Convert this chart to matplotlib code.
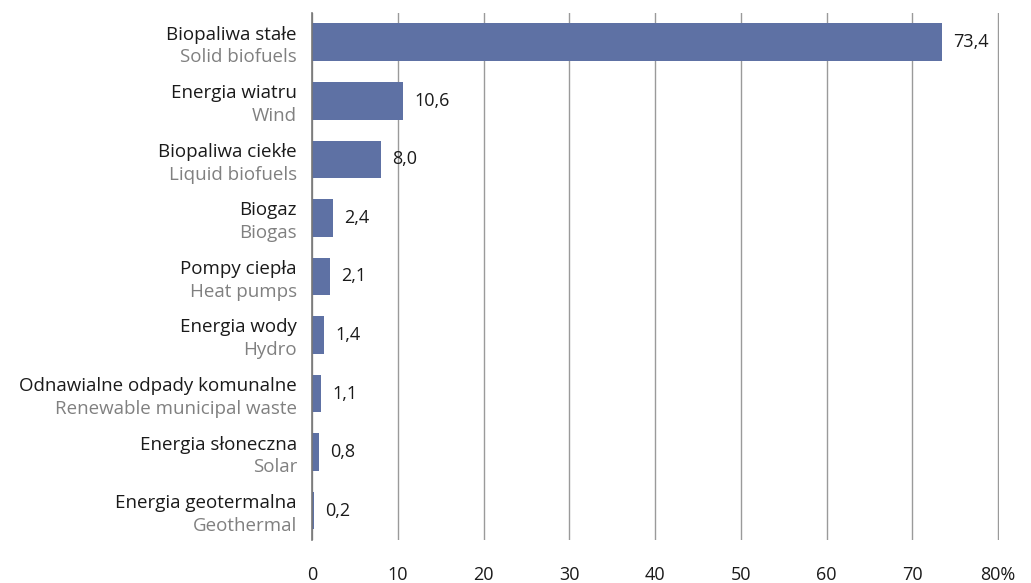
import matplotlib
matplotlib.use("Agg")
import matplotlib.pyplot as plt
import matplotlib.transforms as mtransforms

plt.rcParams["font.family"] = ["Open Sans", "DejaVu Sans"]

labels_pl = ["Biopaliwa stałe", "Energia wiatru", "Biopaliwa ciekłe", "Biogaz", "Pompy ciepła",
             "Energia wody", "Odnawialne odpady komunalne", "Energia słoneczna", "Energia geotermalna"]
labels_en = ["Solid biofuels", "Wind", "Liquid biofuels", "Biogas", "Heat pumps",
             "Hydro", "Renewable municipal waste", "Solar", "Geothermal"]
values = [73.4, 10.6, 8.0, 2.4, 2.1, 1.4, 1.1, 0.8, 0.2]
xticks = [0, 10, 20, 30, 40, 50, 60, 70, 80]
xtick_labels = ["0", "10", "20", "30", "40", "50", "60", "70", "80%"]

bar_color = "#5e71a4"
grid_color = "#9a9a9a"

fig = plt.figure(figsize=(10.31, 5.83), dpi=100)
ax = fig.add_axes([0.3026, 0.0738, 0.6664, 0.904])

ypos = list(range(len(values)))
ax.barh(ypos, values, height=0.64, color=bar_color, zorder=3)
ax.set_ylim(len(values) - 0.5, -0.5)
ax.set_xlim(0, 80.1)

for y, v in zip(ypos, values):
    ax.annotate(f"{v:.1f}".replace(".", ","), xy=(v, y), xytext=(8, 0),
                textcoords="offset points", va="center", ha="left",
                fontsize=13, color="#1a1a1a")

trans = mtransforms.blended_transform_factory(ax.transAxes, ax.transData)
off = mtransforms.ScaledTranslation(-15 / 100, 0, fig.dpi_scale_trans)
for y, pl, en in zip(ypos, labels_pl, labels_en):
    ax.text(0, y - 0.13, pl, transform=trans + off, ha="right", va="center",
            fontsize=13.5, color="#1a1a1a")
    ax.text(0, y + 0.26, en, transform=trans + off, ha="right", va="center",
            fontsize=13.5, color="#808080")

ax.set_xticks(xticks)
ax.set_xticklabels(xtick_labels, fontsize=13, color="#1a1a1a")
ax.set_yticks([])
ax.tick_params(axis="x", length=0, pad=19)
ax.grid(axis="x", color=grid_color, linewidth=1, zorder=0)
for s in ["top", "right", "bottom"]:
    ax.spines[s].set_visible(False)
ax.spines["left"].set_color("#777777")
ax.spines["left"].set_linewidth(1.2)
ax.spines["left"].set_zorder(4)

fig.savefig("out.png", dpi=100)
